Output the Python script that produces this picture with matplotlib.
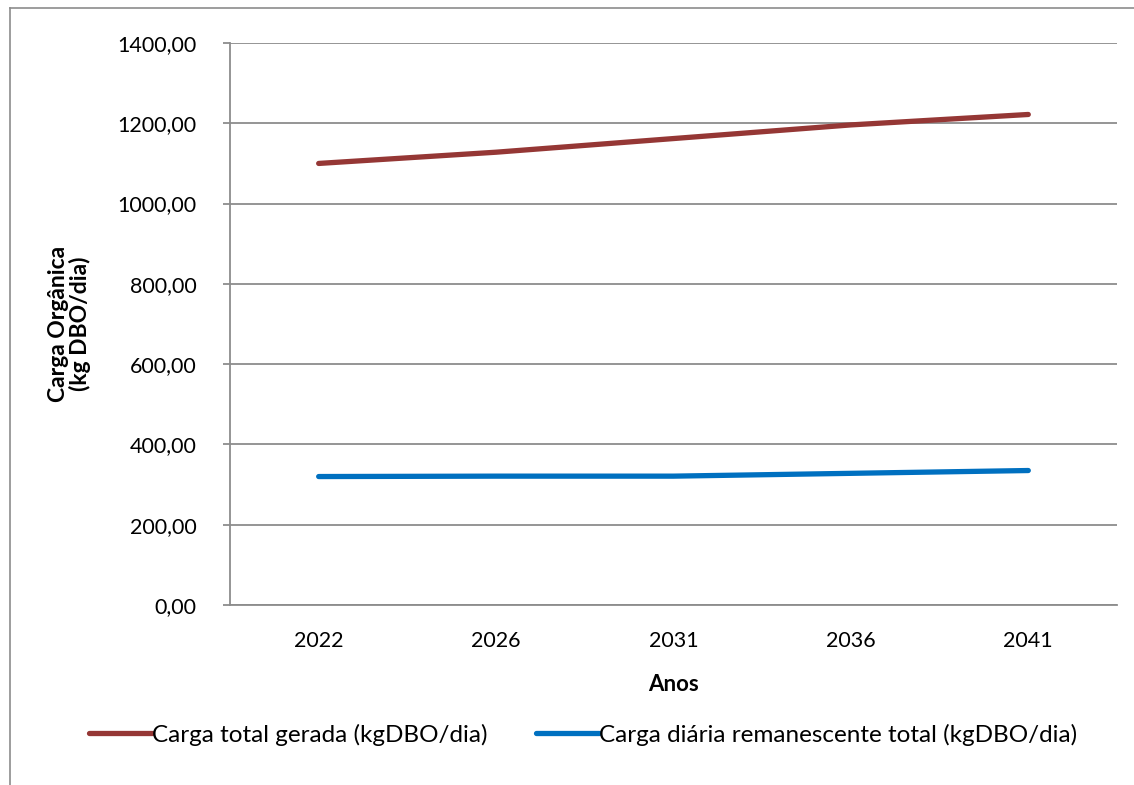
import matplotlib.pyplot as plt
import matplotlib.ticker as mticker
from matplotlib.lines import Line2D
import numpy as np

plt.rcParams['font.family'] = ['Lato', 'DejaVu Sans']

# dados
anos = ['2022', '2026', '2031', '2036', '2041']
carga_total = [1100, 1128, 1162, 1196, 1222]
carga_remanescente = [320, 321, 321, 328, 335]
y_ticks = [0, 200, 400, 600, 800, 1000, 1200, 1400]

fig = plt.figure(figsize=(11.34, 7.85), dpi=100)
ax = fig.add_axes([0.2028, 0.2293, 0.985 - 0.2028, 0.9452 - 0.2293])

x = np.arange(len(anos))
ax.plot(x, carga_total, color='#953735', lw=3.8, solid_capstyle='round',
        label='Carga total gerada (kgDBO/dia)')
ax.plot(x, carga_remanescente, color='#0070C0', lw=3.8, solid_capstyle='round',
        label='Carga diária remanescente total (kgDBO/dia)')

ax.set_xlim(-0.5, len(anos) - 0.5)
ax.set_ylim(0, 1400)
ax.set_xticks(x)
ax.set_xticklabels(anos)
ax.set_yticks(y_ticks)
ax.yaxis.set_major_formatter(mticker.FuncFormatter(lambda v, p: f'{v:.2f}'.replace('.', ',')))

ax.grid(axis='y', color='#8c8c8c', lw=1.3)
ax.set_axisbelow(True)
for s in ['top', 'right']:
    ax.spines[s].set_visible(False)
for s in ['left', 'bottom']:
    ax.spines[s].set_color('#8c8c8c')
    ax.spines[s].set_linewidth(1.3)
ax.tick_params(axis='x', length=0, pad=19, labelsize=15.5)
ax.tick_params(axis='y', length=5, color='#8c8c8c', width=1.3, pad=19, labelsize=15.5)

ax.set_xlabel('Anos', fontsize=16, fontweight='bold', labelpad=16)
ax.set_ylabel('Carga Orgânica\n(kg DBO/dia)', fontsize=16.5, fontweight='bold',
              labelpad=19, linespacing=1.0)

fig.legend(loc='center', bbox_to_anchor=(0.514, 0.064), ncol=2, frameon=False,
           fontsize=17.5, handlelength=2.6, handletextpad=0.0, columnspacing=2.0)

# moldura externa
fig.add_artist(Line2D([10 / 1134, 10 / 1134], [0, 1 - 8 / 785], color='#8c8c8c', lw=1.2))
fig.add_artist(Line2D([10 / 1134, 1], [1 - 8 / 785, 1 - 8 / 785], color='#8c8c8c', lw=1.2))

fig.savefig('out.png', dpi=100)
